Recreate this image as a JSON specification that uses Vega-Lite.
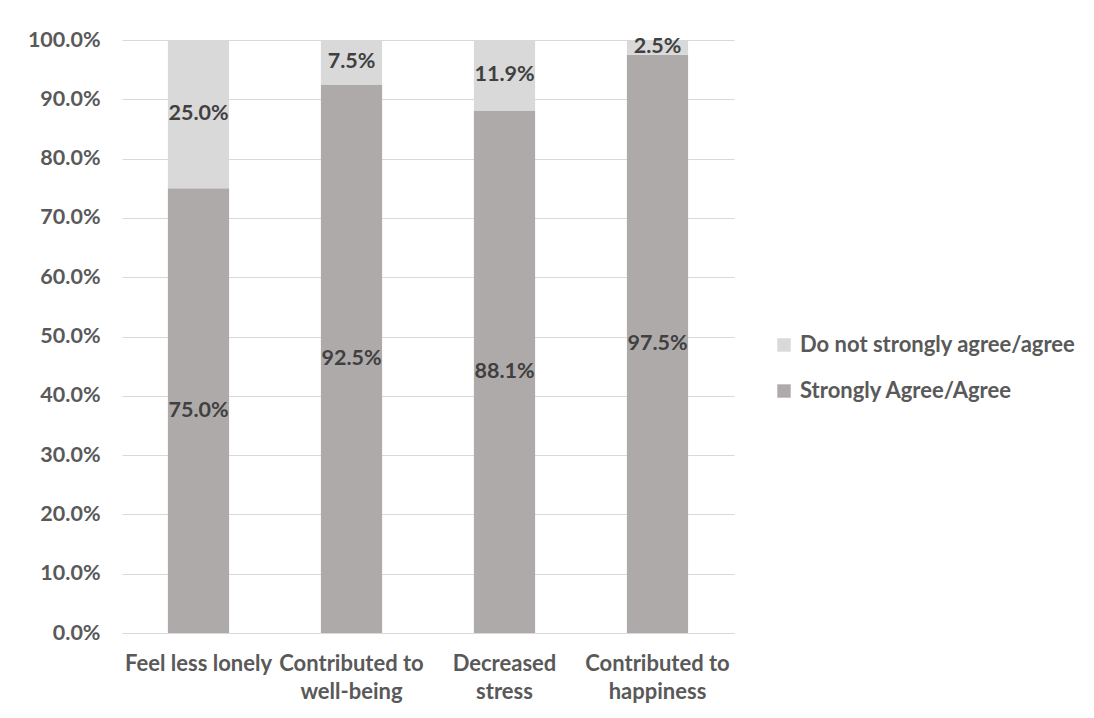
{
  "$schema": "https://vega.github.io/schema/vega-lite/v6.json",
  "width": 612,
  "height": 593,
  "autosize": {"type": "none"},
  "padding": {"left": 122, "top": 40, "right": 360, "bottom": 85},
  "background": "white",
  "config": {
    "view": {"stroke": null},
    "font": "Lato",
    "axis": {"labelFont": "Lato", "labelFontWeight": "bold", "labelColor": "#595959", "labelFontSize": 21.5},
    "legend": {"labelFont": "Lato", "labelFontWeight": "bold", "labelColor": "#595959", "labelFontSize": 22}
  },
  "data": {
    "values": [
      {"category": "Feel less lonely", "series": "Strongly Agree/Agree", "value": 0.75},
      {"category": "Feel less lonely", "series": "Do not strongly agree/agree", "value": 0.25},
      {"category": "Contributed to well-being", "series": "Strongly Agree/Agree", "value": 0.925},
      {"category": "Contributed to well-being", "series": "Do not strongly agree/agree", "value": 0.075},
      {"category": "Decreased stress", "series": "Strongly Agree/Agree", "value": 0.881},
      {"category": "Decreased stress", "series": "Do not strongly agree/agree", "value": 0.119},
      {"category": "Contributed to happiness", "series": "Strongly Agree/Agree", "value": 0.975},
      {"category": "Contributed to happiness", "series": "Do not strongly agree/agree", "value": 0.025}
    ]
  },
  "transform": [
    {"stack": "value", "groupby": ["category"], "sort": [{"field": "series", "order": "descending"}], "as": ["y0", "y1"]},
    {"calculate": "(datum.y0 + datum.y1) / 2", "as": "ymid"}
  ],
  "encoding": {
    "x": {
      "field": "category",
      "type": "nominal",
      "sort": ["Feel less lonely", "Contributed to well-being", "Decreased stress", "Contributed to happiness"],
      "scale": {"paddingInner": 0.6, "paddingOuter": 0.3},
      "axis": {
        "title": null,
        "labelAngle": 0,
        "ticks": false,
        "domainColor": "#d9d9d9",
        "domainWidth": 1,
        "labelPadding": 20,
        "labelBaseline": "top",
        "labelLineHeight": 28,
        "labelOverlap": false,
        "labelLimit": 300,
        "labelFontSize": 22,
        "labelExpr": "datum.value == 'Contributed to well-being' ? ['Contributed to', 'well-being'] : datum.value == 'Decreased stress' ? ['Decreased', 'stress'] : datum.value == 'Contributed to happiness' ? ['Contributed to', 'happiness'] : datum.label"
      }
    }
  },
  "layer": [
    {
      "mark": {"type": "bar"},
      "encoding": {
        "y": {
          "field": "y1",
          "type": "quantitative",
          "scale": {"domain": [0, 1], "nice": false},
          "axis": {
            "title": null,
            "values": [0, 0.1, 0.2, 0.3, 0.4, 0.5, 0.6, 0.7, 0.8, 0.9, 1.0],
            "format": ".1%",
            "domain": false,
            "ticks": false,
            "gridColor": "#d9d9d9",
            "gridWidth": 1,
            "labelPadding": 22
          }
        },
        "y2": {"field": "y0"},
        "color": {
          "field": "series",
          "type": "nominal",
          "scale": {"domain": ["Do not strongly agree/agree", "Strongly Agree/Agree"], "range": ["#d9d9d9", "#aeaaaa"]},
          "legend": {
            "title": null,
            "orient": "none",
            "legendX": 651,
            "legendY": 294,
            "symbolType": "square",
            "symbolSize": 180,
            "symbolStrokeWidth": 0,
            "rowPadding": 24,
            "labelOffset": 5,
            "labelLimit": 400
          }
        }
      }
    },
    {
      "mark": {"type": "text", "font": "Lato", "fontWeight": "bold", "fontSize": 21.5, "color": "#404040", "baseline": "middle"},
      "encoding": {
        "y": {"field": "ymid", "type": "quantitative"},
        "text": {"field": "value", "type": "quantitative", "format": ".1%"}
      }
    }
  ]
}
